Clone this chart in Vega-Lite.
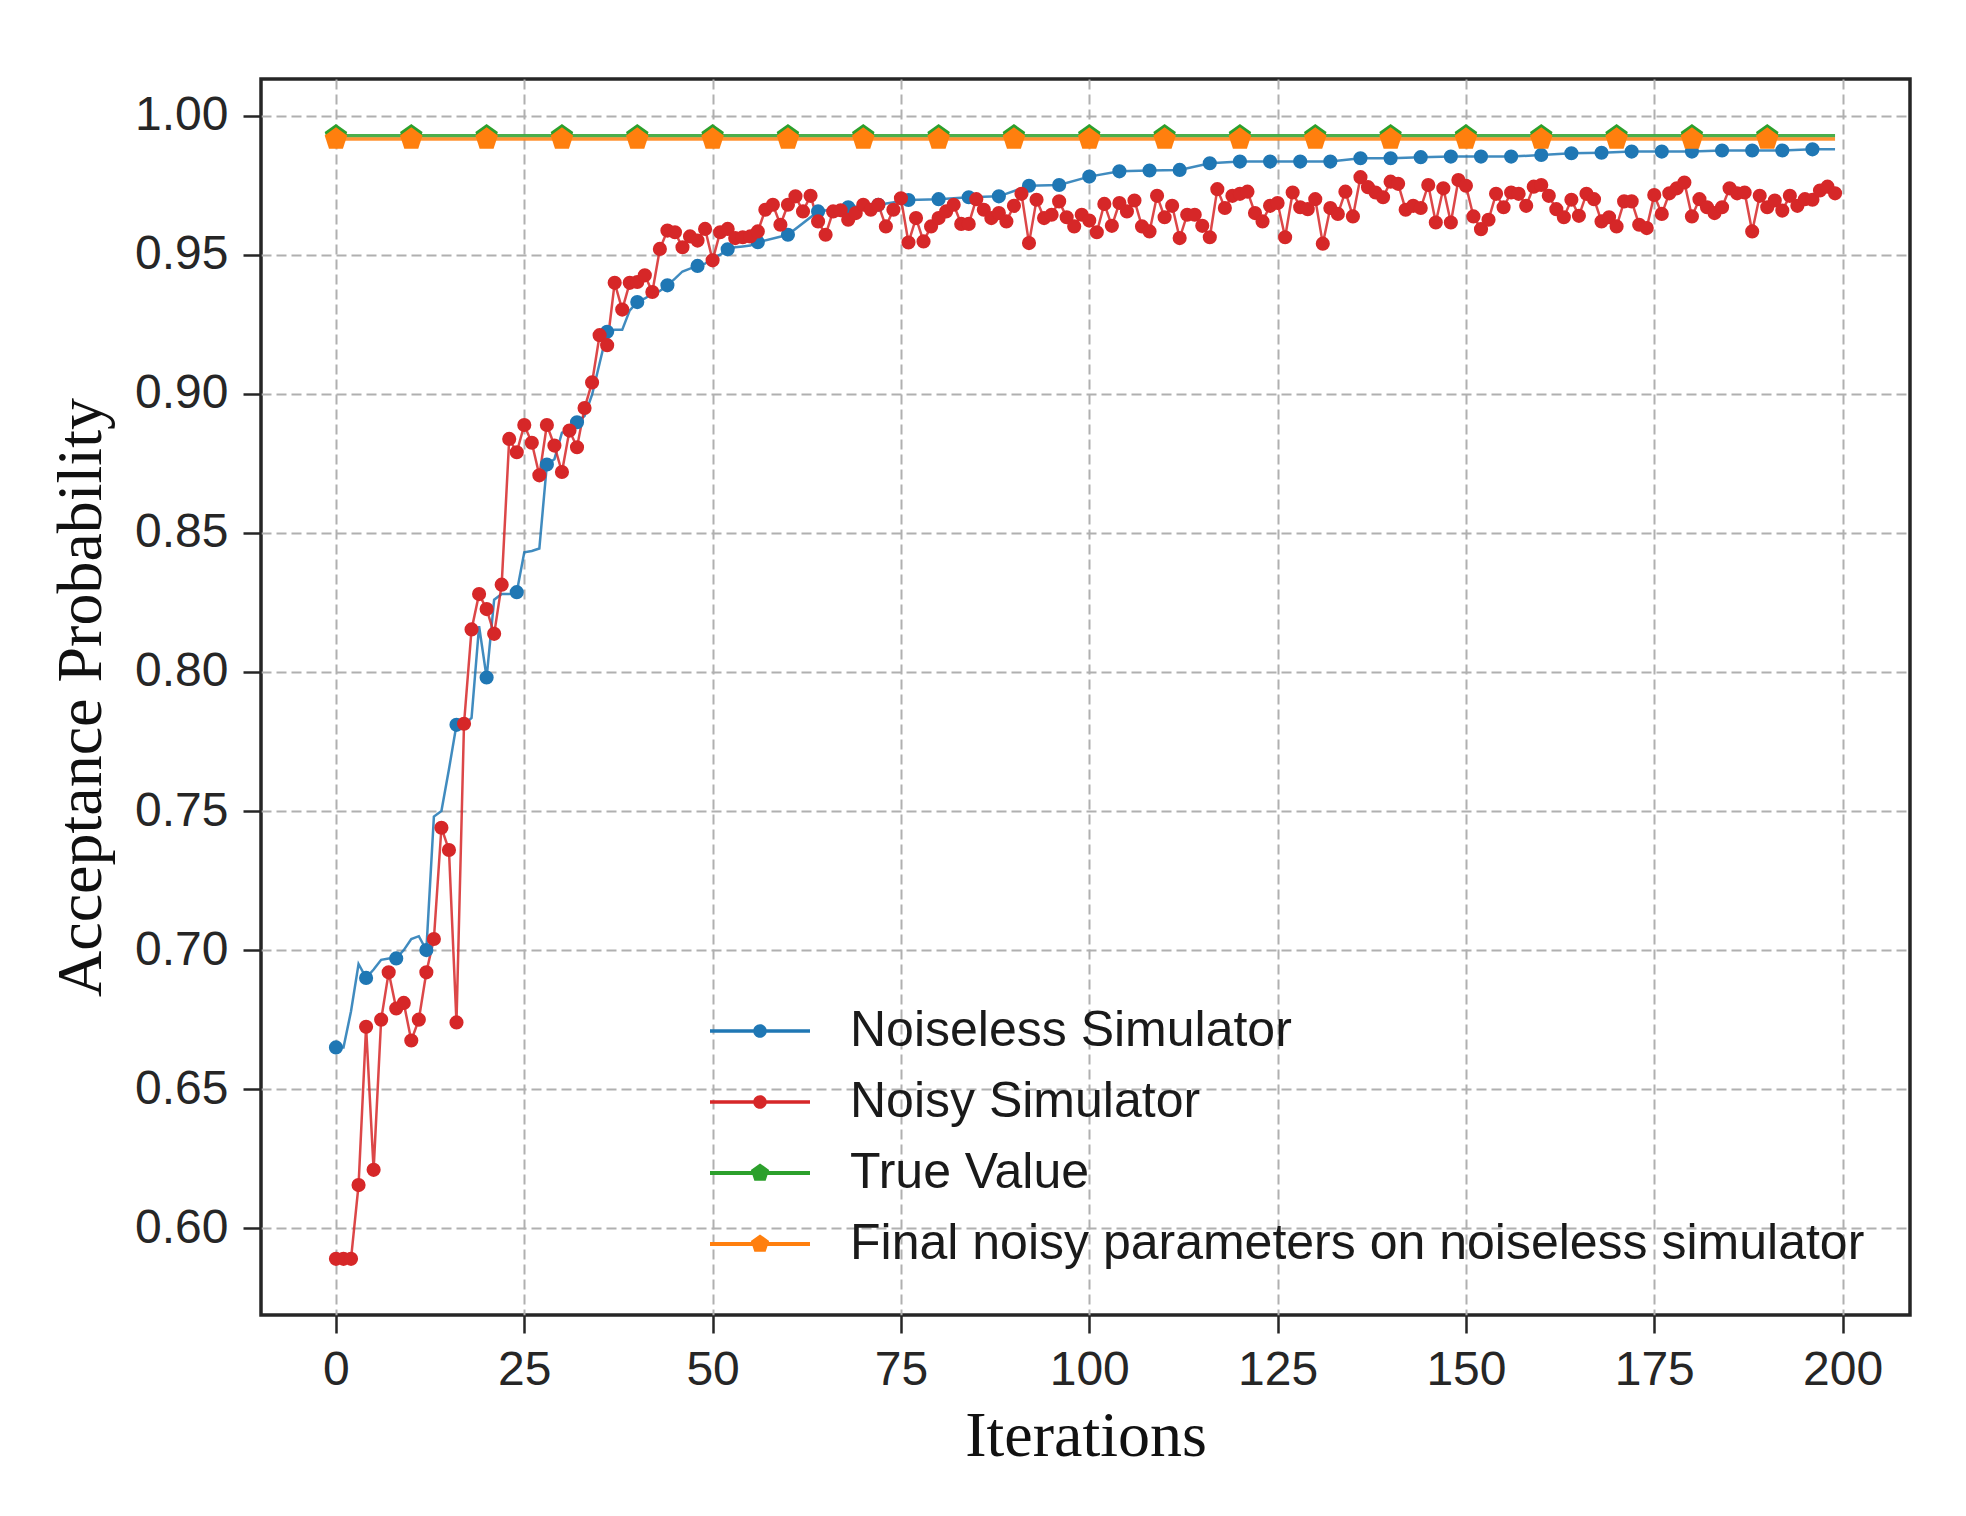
{
"$schema":"https://vega.github.io/schema/vega-lite/v6.json",
"width":1649,"height":1236,
"autosize":{"type":"none"},
"padding":{"left":261,"top":79,"right":56,"bottom":201},
"background":"white",
"data":{"values":[
{"i":0,"a":0.665,"b":0.589,"c":0.9928,"d":0.9916},
{"i":1,"a":0.665,"b":0.589},
{"i":2,"a":0.678,"b":0.589},
{"i":3,"a":0.695,"b":0.6155},
{"i":4,"a":0.690,"b":0.6724},
{"i":5,"a":0.693,"b":0.621},
{"i":6,"a":0.6965,"b":0.675},
{"i":7,"a":0.697,"b":0.692},
{"i":8,"a":0.697,"b":0.679},
{"i":9,"a":0.700,"b":0.681},
{"i":10,"a":0.704,"b":0.6675,"c":0.9928,"d":0.9916},
{"i":11,"a":0.705,"b":0.675},
{"i":12,"a":0.700,"b":0.692},
{"i":13,"a":0.748,"b":0.704},
{"i":14,"a":0.750,"b":0.744},
{"i":15,"a":0.765,"b":0.736},
{"i":16,"a":0.781,"b":0.674},
{"i":17,"a":0.781,"b":0.7814},
{"i":18,"a":0.7835,"b":0.8153},
{"i":19,"a":0.8165,"b":0.828},
{"i":20,"a":0.798,"b":0.8226,"c":0.9928,"d":0.9916},
{"i":21,"a":0.826,"b":0.8137},
{"i":22,"a":0.828,"b":0.8314},
{"i":23,"a":0.828,"b":0.8838},
{"i":24,"a":0.8287,"b":0.879},
{"i":25,"a":0.843,"b":0.8888},
{"i":26,"a":0.8435,"b":0.8824},
{"i":27,"a":0.8444,"b":0.8707},
{"i":28,"a":0.8746,"b":0.8888},
{"i":29,"a":0.8765,"b":0.8814},
{"i":30,"a":0.886,"b":0.8719,"c":0.9928,"d":0.9916},
{"i":31,"a":0.887,"b":0.8868},
{"i":32,"a":0.8898,"b":0.8808},
{"i":33,"a":0.892,"b":0.8949},
{"i":34,"a":0.8997,"b":0.9041},
{"i":35,"a":0.911,"b":0.9211},
{"i":36,"a":0.9223,"b":0.9175},
{"i":37,"a":0.923,"b":0.9399},
{"i":38,"a":0.923,"b":0.9303},
{"i":39,"a":0.930,"b":0.9399},
{"i":40,"a":0.933,"b":0.9402,"c":0.9928,"d":0.9916},
{"i":41,"a":0.9343,"b":0.9426},
{"i":42,"a":0.936,"b":0.9366},
{"i":43,"a":0.937,"b":0.9521},
{"i":44,"a":0.939,"b":0.9587},
{"i":45,"a":0.9414,"b":0.9581},
{"i":46,"a":0.944,"b":0.9527},
{"i":47,"a":0.945,"b":0.9566},
{"i":48,"a":0.946,"b":0.9551},
{"i":49,"a":0.9468,"b":0.9593},
{"i":50,"a":0.949,"b":0.948,"c":0.9928,"d":0.9916},
{"i":51,"a":0.950,"b":0.9581},
{"i":52,"a":0.952,"b":0.9593},
{"i":53,"a":0.9527,"b":0.956},
{"i":54,"a":0.953,"b":0.9563},
{"i":55,"a":0.9533,"b":0.9566},
{"i":56,"a":0.9545,"b":0.9584},
{"i":57,"b":0.9662},
{"i":58,"b":0.968},
{"i":59,"b":0.9608},
{"i":60,"a":0.9572,"b":0.968,"c":0.9928,"d":0.9916},
{"i":61,"b":0.971},
{"i":62,"b":0.9656},
{"i":63,"b":0.9712},
{"i":64,"a":0.9656,"b":0.962},
{"i":65,"b":0.9572},
{"i":66,"b":0.9656},
{"i":67,"b":0.966},
{"i":68,"a":0.9671,"b":0.9626},
{"i":69,"b":0.965},
{"i":70,"b":0.968,"c":0.9928,"d":0.9916},
{"i":71,"b":0.9662},
{"i":72,"a":0.968,"b":0.968},
{"i":73,"b":0.9602},
{"i":74,"b":0.9662},
{"i":75,"b":0.9703},
{"i":76,"a":0.9697,"b":0.9544},
{"i":77,"b":0.9632},
{"i":78,"b":0.9548},
{"i":79,"b":0.9602},
{"i":80,"a":0.970,"b":0.9632,"c":0.9928,"d":0.9916},
{"i":81,"b":0.9656},
{"i":82,"b":0.968},
{"i":83,"b":0.9611},
{"i":84,"a":0.9707,"b":0.9611},
{"i":85,"b":0.970},
{"i":86,"b":0.9662},
{"i":87,"b":0.9632},
{"i":88,"a":0.971,"b":0.965},
{"i":89,"b":0.962},
{"i":90,"b":0.9676,"c":0.9928,"d":0.9916},
{"i":91,"b":0.9719},
{"i":92,"a":0.9748,"b":0.9542},
{"i":93,"b":0.9698},
{"i":94,"b":0.9632},
{"i":95,"b":0.9644},
{"i":96,"a":0.9751,"b":0.9692},
{"i":97,"b":0.9635},
{"i":98,"b":0.9602},
{"i":99,"b":0.9644},
{"i":100,"a":0.9781,"b":0.9623,"c":0.9928,"d":0.9916},
{"i":101,"b":0.9581},
{"i":102,"b":0.9683},
{"i":103,"b":0.9604},
{"i":104,"a":0.980,"b":0.9686},
{"i":105,"b":0.9656},
{"i":106,"b":0.9695},
{"i":107,"b":0.9602},
{"i":108,"a":0.9803,"b":0.9584},
{"i":109,"b":0.9712},
{"i":110,"b":0.9635,"c":0.9928,"d":0.9916},
{"i":111,"b":0.9676},
{"i":112,"a":0.9805,"b":0.956},
{"i":113,"b":0.9644},
{"i":114,"b":0.9644},
{"i":115,"b":0.9604},
{"i":116,"a":0.9829,"b":0.9563},
{"i":117,"b":0.9736},
{"i":118,"b":0.9668},
{"i":119,"b":0.9712},
{"i":120,"a":0.9835,"b":0.9719,"c":0.9928,"d":0.9916},
{"i":121,"b":0.9727},
{"i":122,"b":0.965},
{"i":123,"b":0.962},
{"i":124,"a":0.9835,"b":0.9676},
{"i":125,"b":0.9686},
{"i":126,"b":0.9563},
{"i":127,"b":0.9724},
{"i":128,"a":0.9835,"b":0.9671},
{"i":129,"b":0.9664},
{"i":130,"b":0.970,"c":0.9928,"d":0.9916},
{"i":131,"b":0.954},
{"i":132,"a":0.9835,"b":0.9668},
{"i":133,"b":0.9647},
{"i":134,"b":0.9727},
{"i":135,"b":0.9638},
{"i":136,"a":0.9847,"b":0.9779},
{"i":137,"b":0.9743},
{"i":138,"b":0.9724},
{"i":139,"b":0.9707},
{"i":140,"a":0.9847,"b":0.9763,"c":0.9928,"d":0.9916},
{"i":141,"b":0.9755},
{"i":142,"b":0.9662},
{"i":143,"b":0.9676},
{"i":144,"a":0.9851,"b":0.9668},
{"i":145,"b":0.9751},
{"i":146,"b":0.9616},
{"i":147,"b":0.9739},
{"i":148,"a":0.9853,"b":0.9616},
{"i":149,"b":0.9769},
{"i":150,"b":0.9748,"c":0.9928,"d":0.9916},
{"i":151,"b":0.9638},
{"i":152,"a":0.9853,"b":0.9592},
{"i":153,"b":0.9626},
{"i":154,"b":0.9719},
{"i":155,"b":0.9671},
{"i":156,"a":0.9853,"b":0.9724},
{"i":157,"b":0.9719},
{"i":158,"b":0.9676},
{"i":159,"b":0.9745},
{"i":160,"a":0.9859,"b":0.9751,"c":0.9928,"d":0.9916},
{"i":161,"b":0.9712},
{"i":162,"b":0.9664},
{"i":163,"b":0.9635},
{"i":164,"a":0.9865,"b":0.9698},
{"i":165,"b":0.964},
{"i":166,"b":0.9719},
{"i":167,"b":0.970},
{"i":168,"a":0.9867,"b":0.962},
{"i":169,"b":0.9635},
{"i":170,"b":0.9602,"c":0.9928,"d":0.9916},
{"i":171,"b":0.9692},
{"i":172,"a":0.9871,"b":0.9692},
{"i":173,"b":0.9608},
{"i":174,"b":0.9596},
{"i":175,"b":0.9715},
{"i":176,"a":0.9871,"b":0.9647},
{"i":177,"b":0.9721},
{"i":178,"b":0.9739},
{"i":179,"b":0.976},
{"i":180,"a":0.9871,"b":0.9638,"c":0.9928,"d":0.9916},
{"i":181,"b":0.970},
{"i":182,"b":0.9671},
{"i":183,"b":0.965},
{"i":184,"a":0.9875,"b":0.9671},
{"i":185,"b":0.9739},
{"i":186,"b":0.9721},
{"i":187,"b":0.9724},
{"i":188,"a":0.9875,"b":0.9584},
{"i":189,"b":0.9712},
{"i":190,"b":0.9671,"c":0.9928,"d":0.9916},
{"i":191,"b":0.9695},
{"i":192,"a":0.9875,"b":0.9659},
{"i":193,"b":0.9712},
{"i":194,"b":0.9676},
{"i":195,"b":0.970},
{"i":196,"a":0.9879,"b":0.9698},
{"i":197,"b":0.9731},
{"i":198,"b":0.9745},
{"i":199,"a":0.9879,"b":0.9721,"c":0.9928,"d":0.9916}
]},
"transform":[{"fold":["a","b","c","d"],"as":["s","v"]},{"filter":"isValid(datum.v)"}],
"encoding":{
"x":{"field":"i","type":"quantitative","scale":{"domain":[-9.95,208.95],"nice":false,"zero":false},
"axis":{"values":[0,25,50,75,100,125,150,175,200],"title":"Iterations","titleY":140,"titleBaseline":"alphabetic"}},
"y":{"field":"v","type":"quantitative","scale":{"domain":[0.5688,1.0132],"nice":false,"zero":false},
"axis":{"values":[0.6,0.65,0.7,0.75,0.8,0.85,0.9,0.95,1.0],"format":".2f","title":"Acceptance Probability","titleX":-161,"titleY":618,"titleAngle":-90,"titleAlign":"center","titleBaseline":"alphabetic"}}
},
"layer":[
{"mark":{"type":"line","opacity":0.85},
"encoding":{
"detail":{"field":"s","type":"nominal"},
"stroke":{"condition":[{"test":"datum.s==='a'","value":"#1f77b4"},{"test":"datum.s==='b'","value":"#d62728"},{"test":"datum.s==='c'","value":"#2ca02c"}],"value":"#ff7f0e"},
"strokeWidth":{"condition":{"test":"datum.s==='c'||datum.s==='d'","value":3.5},"value":2.5}
}},
{"transform":[{"filter":"datum.s==='b' || (datum.s==='a' && datum.i%4===0) || ((datum.s==='c'||datum.s==='d') && datum.i%10===0)"}],
"mark":{"type":"point","filled":true,"opacity":1,"strokeWidth":0},
"encoding":{
"color":{"field":"s","type":"nominal","scale":{"domain":["a","b","c","d"],"range":["#1f77b4","#d62728","#2ca02c","#ff7f0e"]},
"legend":{"orient":"none","legendX":474,"legendY":927,"title":null,"padding":0,
"labelExpr":"datum.value==='a'?'Noiseless Simulator':datum.value==='b'?'Noisy Simulator':datum.value==='c'?'True Value':'Final noisy parameters on noiseless simulator'",
"labelFont":"Liberation Sans","labelFontSize":50,"labelColor":"#1a1a1a","labelLimit":3000,"labelOffset":65,
"symbolSize":1600,"symbolStrokeWidth":0,"rowPadding":21,"symbolOpacity":1,
"encode":{"symbols":{"update":{"shape":{"signal":"(datum.value==='c'||datum.value==='d') ? 'M-2.5,-0.1H2.5V0.1H-2.5ZM0,-0.48L0.4565,-0.1483L0.2821,0.3883L-0.2821,0.3883L-0.4565,-0.1483Z' : 'M-2.5,-0.09H2.5V0.09H-2.5ZM0.34,0A0.34,0.34,0,1,1,-0.34,0A0.34,0.34,0,1,1,0.34,0Z'"}}}}}},
"shape":{"condition":{"test":"datum.s==='c'||datum.s==='d'","value":"M0,-1L0.951,-0.309L0.588,0.809L-0.588,0.809L-0.951,-0.309Z"},"value":"circle"},
"size":{"condition":{"test":"datum.s==='c'||datum.s==='d'","value":560},"value":200},
"order":{"field":"s"}
}}
],
"config":{
"view":{"stroke":"#262626","strokeWidth":3.5},
"axis":{"labelFont":"Liberation Sans","labelFontSize":48,"labelColor":"#262626","tickColor":"#262626","tickSize":18,"tickWidth":2.5,"domain":false,"grid":true,"gridColor":"#b0b0b0","gridDash":[10,5],"gridWidth":2,"titleFont":"Liberation Serif","titleFontSize":64,"titleFontWeight":"normal","titleColor":"#111111"},
"axisX":{"labelPadding":13},
"axisY":{"labelPadding":15}
}
}
